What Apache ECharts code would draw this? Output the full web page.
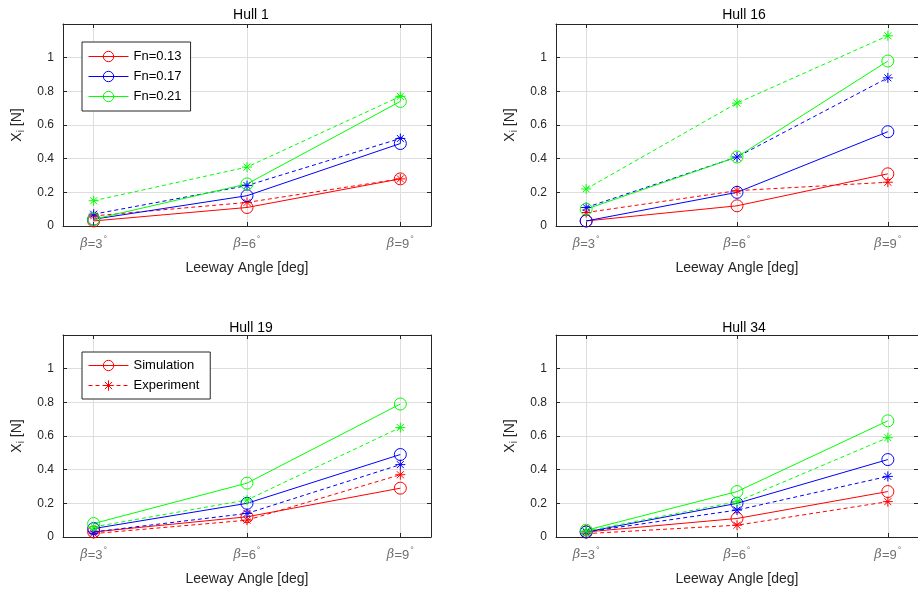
<!DOCTYPE html>
<html><head><meta charset="utf-8">
<script src="https://cdn.jsdelivr.net/npm/echarts@6/dist/echarts.min.js"></script>
<style>html,body{margin:0;padding:0;background:#fff}#c{width:918px;height:589px}</style>
</head><body><div id="c"></div><script>
// ---- data ----
const betaValues = [3, 6, 9];
const betaTickLabels = ['β=3°', 'β=6°', 'β=9°'];
const yTickValues = [0, 0.2, 0.4, 0.6, 0.8, 1];
const hullTitles = ['Hull 1', 'Hull 16', 'Hull 19', 'Hull 34'];
const fnNames = ['Fn=0.13', 'Fn=0.17', 'Fn=0.21'];

// Hull 1
const hull1_sim_013 = [0.03, 0.11, 0.28];
const hull1_exp_013 = [0.06, 0.14, 0.28];
const hull1_sim_017 = [0.04, 0.18, 0.49];
const hull1_exp_017 = [0.07, 0.24, 0.52];
const hull1_sim_021 = [0.04, 0.25, 0.74];
const hull1_exp_021 = [0.15, 0.35, 0.77];
// Hull 16
const hull16_sim_013 = [0.03, 0.12, 0.31];
const hull16_exp_013 = [0.08, 0.21, 0.26];
const hull16_sim_017 = [0.03, 0.20, 0.56];
const hull16_exp_017 = [0.11, 0.41, 0.88];
const hull16_sim_021 = [0.10, 0.41, 0.98];
const hull16_exp_021 = [0.22, 0.73, 1.13];
// Hull 19
const hull19_sim_013 = [0.03, 0.12, 0.29];
const hull19_exp_013 = [0.02, 0.10, 0.37];
const hull19_sim_017 = [0.05, 0.20, 0.49];
const hull19_exp_017 = [0.03, 0.14, 0.43];
const hull19_sim_021 = [0.08, 0.32, 0.79];
const hull19_exp_021 = [0.06, 0.22, 0.65];
// Hull 34
const hull34_sim_013 = [0.03, 0.11, 0.27];
const hull34_exp_013 = [0.02, 0.07, 0.21];
const hull34_sim_017 = [0.03, 0.20, 0.46];
const hull34_exp_017 = [0.03, 0.16, 0.36];
const hull34_sim_021 = [0.04, 0.27, 0.69];
const hull34_exp_021 = [0.035, 0.21, 0.59];

// ---- styling / layout ----
const COLORS = ['#ff0000', '#0000ff', '#00ff00'];
const FONT = '"Liberation Sans", Arial, sans-serif';
const AX = '#262626';
const GRIDC = '#dedede';
const XLAB = '#707070';
const STAR = 'path://M0,5 L10,5 M5,0 L5,10 M1.5,1.5 L8.5,8.5 M8.5,1.5 L1.5,8.5';
const grids = [
  {left: 63, top: 24, width: 368, height: 202},
  {left: 556, top: 24, width: 368, height: 202},
  {left: 63, top: 335, width: 368, height: 202},
  {left: 556, top: 335, width: 368, height: 202}
];
const titleCenters = [[246, 3], [739, 3], [246, 316], [739, 316]];

const hullData = [
  [[hull1_sim_013, hull1_exp_013], [hull1_sim_017, hull1_exp_017], [hull1_sim_021, hull1_exp_021]],
  [[hull16_sim_013, hull16_exp_013], [hull16_sim_017, hull16_exp_017], [hull16_sim_021, hull16_exp_021]],
  [[hull19_sim_013, hull19_exp_013], [hull19_sim_017, hull19_exp_017], [hull19_sim_021, hull19_exp_021]],
  [[hull34_sim_013, hull34_exp_013], [hull34_sim_017, hull34_exp_017], [hull34_sim_021, hull34_exp_021]]
];

const xAxes = [], yAxes = [], series = [], titles = [];
grids.forEach((g, i) => {
  xAxes.push({
    gridIndex: i, type: 'value', min: 2.4, max: 9.6, position: 'bottom',
    axisLine: {show: true, onZero: false, lineStyle: {color: AX, width: 1}},
    axisTick: {show: true, inside: true, length: 4, customValues: betaValues, lineStyle: {color: AX}},
    axisLabel: {
      customValues: betaValues, margin: 9, color: XLAB, fontFamily: FONT, fontSize: 13,
      formatter: v => {
        const k = betaValues.indexOf(v);
        const t = k >= 0 ? betaTickLabels[k] : '';
        if (!t) return '';
        return '{b|β}{n|' + t.slice(1, -1) + '}{s|°}';
      },
      rich: {
        b: {fontStyle: 'italic', fontFamily: '"DejaVu Serif", serif', fontSize: 13, color: XLAB},
        n: {fontFamily: FONT, fontSize: 13, color: XLAB},
        s: {fontFamily: FONT, fontSize: 9, color: XLAB, padding: [0, 0, 9, 1]}
      }
    },
    splitLine: {show: true, lineStyle: {color: GRIDC, width: 1}},
    name: 'Leeway Angle [deg]', nameLocation: 'middle', nameGap: 35,
    nameTextStyle: {fontFamily: FONT, fontSize: 14, color: AX}
  });
  xAxes.push({
    gridIndex: i, type: 'value', min: 2.4, max: 9.6, position: 'top',
    axisLine: {show: true, onZero: false, lineStyle: {color: AX, width: 1}},
    axisTick: {show: true, inside: true, length: 4, customValues: betaValues, lineStyle: {color: AX}},
    axisLabel: {show: false}, splitLine: {show: false}
  });
  yAxes.push({
    gridIndex: i, type: 'value', min: 0, max: 1.2, interval: 0.2, position: 'left',
    axisLine: {show: true, onZero: false, lineStyle: {color: AX, width: 1}},
    axisTick: {show: true, inside: true, length: 4, lineStyle: {color: AX}},
    axisLabel: {
      margin: 9, color: AX, fontFamily: FONT, fontSize: 12,
      formatter: v => {
        const k = yTickValues.findIndex(t => Math.abs(t - v) < 1e-6);
        return k >= 0 ? String(yTickValues[k]) : '';
      }
    },
    splitLine: {show: true, lineStyle: {color: GRIDC, width: 1}},
    name: 'X{sub|i} [N]', nameLocation: 'middle', nameGap: 37,
    nameTextStyle: {fontFamily: FONT, fontSize: 14, color: AX,
      rich: {sub: {fontFamily: FONT, fontSize: 10, color: AX, padding: [8, 0, 0, 0]}}}
  });
  yAxes.push({
    gridIndex: i, type: 'value', min: 0, max: 1.2, interval: 0.2, position: 'right',
    axisLine: {show: true, onZero: false, lineStyle: {color: AX, width: 1}},
    axisTick: {show: true, inside: true, length: 4, lineStyle: {color: AX}},
    axisLabel: {show: false}, splitLine: {show: false}
  });
  titles.push({
    text: hullTitles[i], left: titleCenters[i][0], top: titleCenters[i][1], textAlign: 'center',
    textStyle: {fontFamily: FONT, fontSize: 14, fontWeight: 'normal', color: '#000'}
  });
  hullData[i].forEach((pair, c) => {
    [0, 1].forEach(e => {
      let name;
      if (i === 0) name = fnNames[c];
      else if (i === 2) name = e ? 'Experiment' : 'Simulation';
      else name = hullTitles[i] + ' ' + fnNames[c] + (e ? ' exp' : ' sim');
      series.push({
        type: 'line', name,
        xAxisIndex: i * 2, yAxisIndex: i * 2,
        data: betaValues.map((b, k) => [b, pair[e][k]]),
        symbol: e ? STAR : 'circle',
        symbolSize: e ? 10 : 12,
        showSymbol: true,
        lineStyle: {color: COLORS[c], width: 1, type: e ? [4, 3] : 'solid'},
        itemStyle: {color: e ? COLORS[c] : 'rgba(0,0,0,0)', borderColor: COLORS[c], borderWidth: 1},
        emphasis: {disabled: true},
        silent: true,
        clip: false
      });
    });
  });
});

const legendBase = {
  orient: 'vertical', itemWidth: 40, itemHeight: 13, itemGap: 7,
  borderColor: AX, borderWidth: 1, backgroundColor: '#fff', borderRadius: 0,
  selectedMode: false,
  lineStyle: {width: 1},
  itemStyle: {borderWidth: 1},
  textStyle: {fontFamily: FONT, fontSize: 13, color: '#000'}
};

const option = {
  animation: false,
  backgroundColor: '#fff',
  title: titles,
  grid: grids,
  xAxis: xAxes,
  yAxis: yAxes,
  legend: [
    Object.assign({}, legendBase, {left: 82, top: 42, padding: [8, 9, 8, 6], data: fnNames}),
    Object.assign({}, legendBase, {left: 82, top: 352, padding: [7, 11, 7, 6], data: ['Simulation', 'Experiment']})
  ],
  series
};
const chart = echarts.init(document.getElementById('c'), null, {renderer: 'canvas'});
chart.setOption(option);
</script></body></html>
